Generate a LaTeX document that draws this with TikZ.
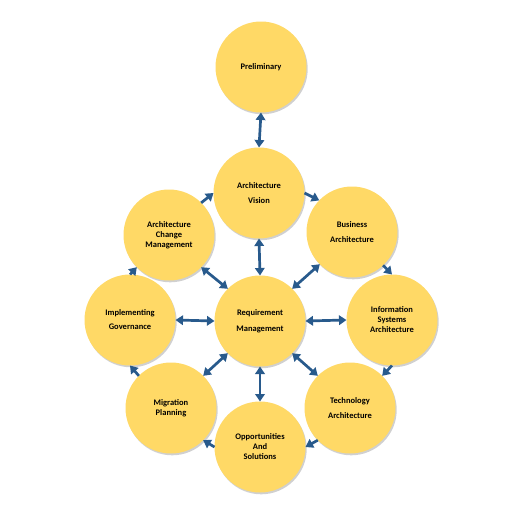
\documentclass[tikz,border=0pt]{standalone}
\usepackage{fontspec}
\setmainfont{Carlito}
\usetikzlibrary{arrows.meta,shadows}
\definecolor{circfill}{HTML}{FFD966}
\definecolor{arrowblue}{HTML}{285A8C}
\tikzset{
  phase/.style={circle, fill=circfill, minimum size=91pt, inner sep=0pt, outer sep=0pt,
    align=center, font=\fontsize{8.5}{10}\selectfont\bfseries, text=black,
    drop shadow={shadow xshift=1.2pt, shadow yshift=-1.8pt, opacity=0.3, fill=black!60}},
  link/.style={draw=arrowblue, line width=2.7pt, -{Triangle[length=7.5pt,width=9.5pt]}},
  dlink/.style={draw=arrowblue, line width=2.7pt, {Triangle[length=7.5pt,width=9.5pt]}-{Triangle[length=7.5pt,width=9.5pt]}}
}
\begin{document}
\begin{tikzpicture}[x=1pt,y=-1pt]
\useasboundingbox[fill=white] (0,0) rectangle (522,514);

\node[phase] (prelim) at (261,67) {Preliminary};
\node[phase] (av) at (259,193) {Architecture\\[5pt]Vision};
\node[phase] (acm) at (169,235) {Architecture\\Change\\Management};
\node[phase] (ba) at (352,232) {Business\\[5pt]Architecture};
\node[phase] (rm) at (260,321) {Requirement\\[6pt]Management};
\node[phase] (impl) at (130,320) {Implementing\\[4pt]Governance};
\node[phase] (is) at (392,320) {Information\\Systems\\Architecture};
\node[phase] (mig) at (171,408) {Migration\\Planning};
\node[phase] (tech) at (350,408) {Technology\\[5pt]Architecture};
\node[phase] (opp) at (260,447) {Opportunities\\And\\Solutions};

% preliminary link
\draw[dlink] (prelim.-90) -- (av.90);

% outer cycle
\draw[link] (av.0) -- (ba.136);
\draw[link] (ba.-47) -- (is.90);
\draw[link] (is.-90) -- (tech.45);
\draw[link] (tech.-135) -- (opp.0);
\draw[link] (opp.180) -- (mig.-45);
\draw[link] (mig.135) -- (impl.-90);
\draw[link] (impl.90) -- (acm.-135);
\draw[link] (acm.45) -- (av.180);

% requirement management spokes
\draw[dlink] (rm.90) -- (av.-90);
\draw[dlink] (rm.45) -- (ba.-135);
\draw[dlink] (rm.0) -- (is.180);
\draw[dlink] (rm.-45) -- (tech.135);
\draw[dlink] (rm.-90) -- (opp.90);
\draw[dlink] (rm.-135) -- (mig.45);
\draw[dlink] (rm.180) -- (impl.0);
\draw[dlink] (rm.135) -- (acm.-45);
\end{tikzpicture}
\end{document}
